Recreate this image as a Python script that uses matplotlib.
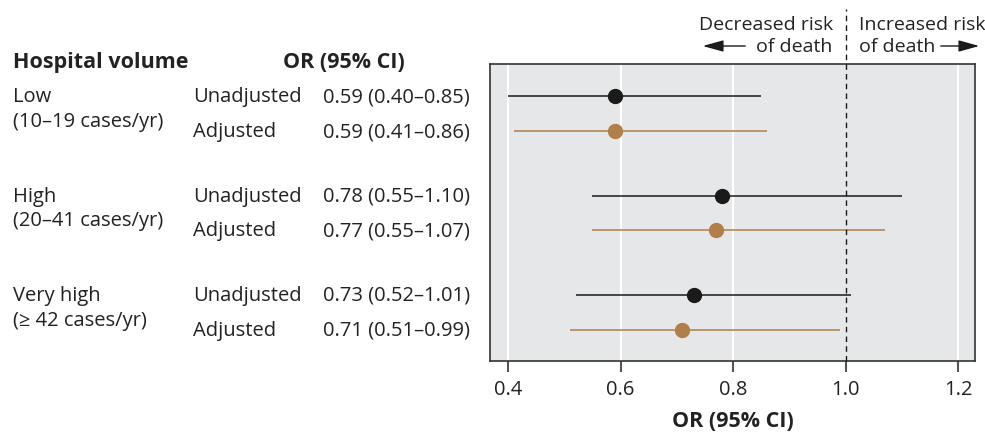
import numpy as np
import matplotlib
matplotlib.use("Agg")
import matplotlib.pyplot as plt
from matplotlib.transforms import blended_transform_factory
from matplotlib.patches import FancyArrowPatch

plt.rcParams['font.family'] = ['Open Sans', 'DejaVu Sans']

groups = ["Low", "High", "Very high"]
group_ranges = ["(10–19 cases/yr)", "(20–41 cases/yr)", "(≥ 42 cases/yr)"]

unadj_or = [0.59, 0.78, 0.73]
unadj_lo = [0.40, 0.55, 0.52]
unadj_hi = [0.85, 1.10, 1.01]

adj_or = [0.59, 0.77, 0.71]
adj_lo = [0.41, 0.55, 0.51]
adj_hi = [0.86, 1.07, 0.99]

xticks = [0.4, 0.6, 0.8, 1.0, 1.2]

black = "#1a1a1a"
brown = "#b07f4a"
txt = "#222222"
fs = 14.5
fsb = 15.5

fig = plt.figure(figsize=(9.85, 4.35), dpi=100)
ax = fig.add_axes([490 / 985, 73 / 435, 485 / 985, 297 / 435])
ax.set_facecolor("#e6e7e8")

g = np.arange(len(groups))
y_un = g - 0.175
y_ad = g + 0.175

for x in [0.4, 0.6, 0.8, 1.2]:
    ax.axvline(x, color="white", lw=1.5, zorder=0)

ax.hlines(y_un, unadj_lo, unadj_hi, color=black, lw=1.1, zorder=2)
ax.plot(unadj_or, y_un, "o", color=black, ms=10, zorder=3)
ax.hlines(y_ad, adj_lo, adj_hi, color=brown, lw=1.1, zorder=2)
ax.plot(adj_or, y_ad, "o", color=brown, ms=10, zorder=3)

ax.set_xlim(0.368, 1.23)
ax.set_ylim(2.49, -0.5)
ax.plot([1.0, 1.0], [2.49, -1.05], ls=(0, (4, 3)), color=black, lw=1.0,
        clip_on=False, zorder=4)

ax.set_xticks(xticks)
ax.set_xticklabels([f"{t:.1f}" for t in xticks], fontsize=fs, color=txt)
ax.set_yticks([])
ax.tick_params(axis="x", length=8, width=1.5, color="#555555", pad=5)
for s in ax.spines.values():
    s.set_color("#333333")
    s.set_linewidth(1.2)
ax.set_xlabel("OR (95% CI)", fontsize=fsb, fontweight="bold", labelpad=8,
              color=txt)

# left hand table
tr = blended_transform_factory(fig.transFigure, ax.transData)
ax.text(13 / 985, -0.53, "Hospital volume", transform=tr, fontsize=fsb,
        fontweight="bold", va="center", ha="left", color=txt)
ax.text(344 / 985, -0.53, "OR (95% CI)", transform=tr, fontsize=fsb,
        fontweight="bold", va="center", ha="center", color=txt)
for i in range(len(groups)):
    ax.text(13 / 985, y_un[i], groups[i], transform=tr, fontsize=fs,
            va="center", ha="left", color=txt)
    ax.text(13 / 985, y_un[i] + 0.25, group_ranges[i], transform=tr,
            fontsize=fs, va="center", ha="left", color=txt)
    ax.text(193 / 985, y_un[i], "Unadjusted", transform=tr, fontsize=fs,
            va="center", ha="left", color=txt)
    ax.text(193 / 985, y_ad[i], "Adjusted", transform=tr, fontsize=fs,
            va="center", ha="left", color=txt)
    ax.text(470 / 985, y_un[i],
            f"{unadj_or[i]:.2f} ({unadj_lo[i]:.2f}–{unadj_hi[i]:.2f})",
            transform=tr, fontsize=fs, va="center", ha="right", color=txt)
    ax.text(470 / 985, y_ad[i],
            f"{adj_or[i]:.2f} ({adj_lo[i]:.2f}–{adj_hi[i]:.2f})",
            transform=tr, fontsize=fs, va="center", ha="right", color=txt)

# risk annotations above the panel
tr2 = blended_transform_factory(ax.transData, fig.transFigure)
y1 = 1 - 25 / 435
y2 = 1 - 47 / 435
ax.text(0.977, y1, "Decreased risk", transform=tr2, fontsize=14,
        ha="right", va="center", color=txt)
ax.text(0.977, y2, "of death", transform=tr2, fontsize=14,
        ha="right", va="center", color=txt)
ax.text(1.024, y1, "Increased risk", transform=tr2, fontsize=14,
        ha="left", va="center", color=txt)
ax.text(1.024, y2, "of death", transform=tr2, fontsize=14,
        ha="left", va="center", color=txt)

style = "-|>,head_length=0.9,head_width=0.25"
fig.patches.append(FancyArrowPatch((748 / 985, y2), (700 / 985, y2),
                                   transform=fig.transFigure, arrowstyle=style,
                                   mutation_scale=14, color=black, lw=1.0))
fig.patches.append(FancyArrowPatch((938 / 985, y2), (982 / 985, y2),
                                   transform=fig.transFigure, arrowstyle=style,
                                   mutation_scale=14, color=black, lw=1.0))

fig.savefig("out.png", dpi=100)
